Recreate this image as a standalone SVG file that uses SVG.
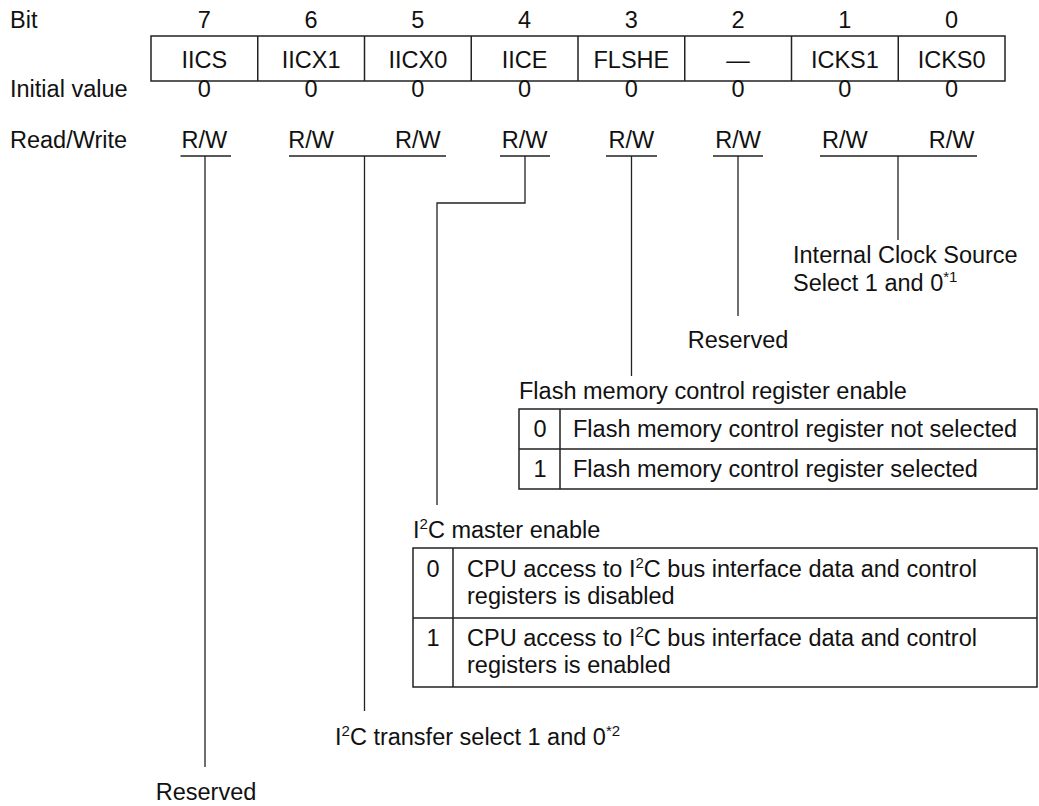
<svg xmlns="http://www.w3.org/2000/svg" width="1039" height="806" viewBox="0 0 1039 806">
<style>
text{font-family:"Liberation Sans",Arial,sans-serif;font-size:23.5px;fill:#111}
.c{text-anchor:middle}
.sup{font-size:15px}
.ln{stroke:#222;stroke-width:1.3;fill:none}
.bx{stroke:#222;stroke-width:1.5;fill:none}
</style>
<rect width="1039" height="806" fill="#fff"/>
<g id="row-labels">
<text x="10" y="28">Bit</text>
<text x="10" y="97">Initial value</text>
<text x="10" y="148">Read/Write</text>
</g>
<g id="register">
<rect class="bx" x="151" y="36" width="854" height="45"/>
<path class="bx" d="M257.75 36V81M364.5 36V81M471.25 36V81M578 36V81M684.75 36V81M791.5 36V81M898.25 36V81"/>
<g class="c">
<text x="204.4" y="28">7</text><text x="311.1" y="28">6</text><text x="417.9" y="28">5</text><text x="524.6" y="28">4</text><text x="631.4" y="28">3</text><text x="738.1" y="28">2</text><text x="844.9" y="28">1</text><text x="951.6" y="28">0</text>
<text x="204.4" y="68">IICS</text><text x="311.1" y="68">IICX1</text><text x="417.9" y="68">IICX0</text><text x="524.6" y="68">IICE</text><text x="631.4" y="68">FLSHE</text><text x="738.1" y="68">—</text><text x="844.9" y="68">ICKS1</text><text x="951.6" y="68">ICKS0</text>
<text x="204.4" y="97">0</text><text x="311.1" y="97">0</text><text x="417.9" y="97">0</text><text x="524.6" y="97">0</text><text x="631.4" y="97">0</text><text x="738.1" y="97">0</text><text x="844.9" y="97">0</text><text x="951.6" y="97">0</text>
<text x="204.4" y="148">R/W</text><text x="311.1" y="148">R/W</text><text x="417.9" y="148">R/W</text><text x="524.6" y="148">R/W</text><text x="631.4" y="148">R/W</text><text x="738.1" y="148">R/W</text><text x="844.9" y="148">R/W</text><text x="951.6" y="148">R/W</text>
</g>
</g>
<g id="connectors">
<path class="ln" d="M180.5 156H231M205 156V767"/>
<path class="ln" d="M289 156H446M364.5 156V711"/>
<path class="ln" d="M500 156H550M525 156V203H437V505"/>
<path class="ln" d="M606 156H657M631.5 156V376"/>
<path class="ln" d="M713 156H763M738 156V316"/>
<path class="ln" d="M820 156H977M898 156V240"/>
</g>
<g id="clock-select">
<text x="793" y="263">Internal Clock Source</text>
<text x="793" y="291">Select 1 and 0<tspan class="sup" dy="-9">*1</tspan></text>
</g>
<g id="reserved-bit2">
<text class="c" x="738" y="348">Reserved</text>
</g>
<g id="flshe">
<text x="519" y="399">Flash memory control register enable</text>
<rect class="bx" x="519" y="409" width="518" height="80"/>
<path class="bx" d="M519 449H1037M560 409V489"/>
<text class="c" x="540" y="437">0</text>
<text x="573" y="437">Flash memory control register not selected</text>
<text class="c" x="540" y="477">1</text>
<text x="573" y="477">Flash memory control register selected</text>
</g>
<g id="iice">
<text x="413" y="538">I<tspan class="sup" dy="-9">2</tspan><tspan dy="9">C master enable</tspan></text>
<rect class="bx" x="413" y="548" width="624" height="139"/>
<path class="bx" d="M413 618H1037M453 548V687"/>
<text class="c" x="433" y="577">0</text>
<text x="467" y="577">CPU access to I<tspan class="sup" dy="-9">2</tspan><tspan dy="9">C bus interface data and control</tspan></text>
<text x="467" y="604">registers is disabled</text>
<text class="c" x="433" y="646">1</text>
<text x="467" y="646">CPU access to I<tspan class="sup" dy="-9">2</tspan><tspan dy="9">C bus interface data and control</tspan></text>
<text x="467" y="673">registers is enabled</text>
</g>
<g id="iicx">
<text x="335" y="745">I<tspan class="sup" dy="-9">2</tspan><tspan dy="9">C transfer select 1 and 0</tspan><tspan class="sup" dy="-9">*2</tspan></text>
</g>
<g id="reserved-bit7">
<text class="c" x="206" y="800">Reserved</text>
</g>
</svg>
